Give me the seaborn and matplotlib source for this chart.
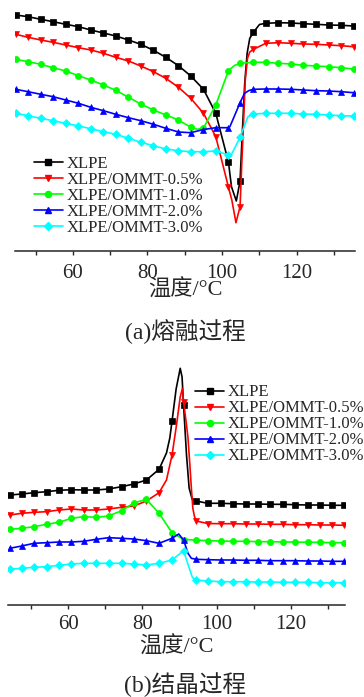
import numpy as np
import pandas as pd
import matplotlib
matplotlib.use("Agg")
import matplotlib.pyplot as plt
from matplotlib.lines import Line2D
import seaborn as sns

sns.set_style("ticks")
plt.rcParams['font.family'] = ['Liberation Serif', 'Noto Sans CJK SC']

names = ["XLPE", "XLPE/OMMT-0.5%", "XLPE/OMMT-1.0%", "XLPE/OMMT-2.0%", "XLPE/OMMT-3.0%"]
colors = ["#000000", "#ff0000", "#00ff00", "#0000ff", "#00ffff"]
markers = ["s", "v", "o", "^", "D"]
msizes = [3.8, 4.8, 4.4, 4.6, 3.8]

# (a) melting: temperatures of the marker points (°C), heat flow in arbitrary units
t_melt = [44.7, 48.0, 51.4, 54.7, 58.1, 61.5, 64.8, 68.2, 71.5, 74.9, 78.2, 81.6, 84.9, 88.3,
          91.6, 95.0, 98.3, 101.7, 104.8, 108.4, 111.7, 115.1, 118.5, 121.8, 125.2, 128.5, 131.9, 135.2]
melt_0 = [236, 234.3, 231.7, 229.3, 226.7, 224.3, 221, 218, 215, 211, 206.7, 200.7, 193.7, 185.3,
          175, 161.7, 137.7, 88.7, 70, 218.7, 227.7, 228.3, 228, 227.3, 226.7, 226, 225.7, 225]
melt_05 = [216.7, 213.7, 211, 208.7, 206, 203.3, 201, 197.7, 193.7, 190, 185, 179.3, 172.7, 163.7,
           152.7, 137.7, 114.3, 63.7, 44.3, 201.7, 207.7, 208.3, 207.7, 207, 206.7, 206, 205.3, 204.3]
melt_10 = [191.7, 189.3, 186.7, 183.3, 180, 175.3, 171, 166, 160.7, 153.7, 147, 141, 136, 131,
           123.7, 123, 146, 180.3, 187.7, 188.7, 188.7, 187.7, 187, 185.7, 185, 184.3, 183.3, 182]
melt_20 = [161.7, 159.3, 156.7, 154.3, 151, 147.7, 143.7, 140.3, 136.7, 133.3, 130.3, 126.7, 122.7, 119,
           118.3, 121.5, 123.3, 123.3, 148.3, 161.7, 162, 162, 161.7, 161, 160.3, 160, 159.3, 158.3]
melt_30 = [137.7, 135.3, 132.7, 130.3, 127.7, 125, 122.3, 119.3, 116.7, 112.7, 108.7, 105.3, 102, 100.3,
           99.3, 99.3, 100, 96, 113.7, 137, 137.7, 137.7, 137.7, 137, 136.7, 136, 135.3, 135]
# extra points read between markers (peak region)
melt_0_extra = [(102.5, 64.3), (103.8, 50), (105.4, 117.7), (106.05, 167.7), (106.7, 197.7),
                (107.4, 212.7), (110.0, 226.5)]
melt_05_extra = [(102.6, 51), (103.7, 28.3), (105.3, 91), (105.8, 134.3), (106.2, 171),
                 (106.8, 192.7), (107.4, 199)]
melt_10_extra = [(93.3, 121.7), (103.3, 185.5)]
melt_20_extra = [(102.1, 124.5), (106.0, 157.7), (107.2, 160.5)]
melt_30_extra = [(102.2, 94.3), (106.9, 134.3)]

# (b) crystallization
t_cryst = [44.3, 47.5, 50.8, 54.2, 57.5, 60.9, 64.2, 67.6, 70.9, 74.4, 77.7, 81.1, 84.5, 88.0,
           91.1, 94.5, 97.6, 101.1, 104.4, 107.8, 111.1, 114.4, 117.8, 121.1, 124.5, 127.9, 131.2, 134.4]
cryst_0 = [110, 111, 112.3, 113.3, 114.7, 115.3, 115, 115, 116, 118.3, 121, 125, 135.7, 184,
           200, 104, 101.7, 101.7, 101.3, 101, 101, 100.7, 100.7, 100.3, 100, 100, 99.7, 99.7]
cryst_05 = [90, 91.7, 92.7, 93.3, 95, 96, 95, 95, 96, 97.7, 99, 104, 112.3, 150,
            203, 84, 81.5, 81.3, 81.3, 81, 81, 80.7, 80.7, 80.3, 80.3, 80, 80, 79.7]
cryst_10 = [75.7, 76.7, 78.3, 80.7, 82.7, 86.7, 88.3, 87.7, 89, 94.3, 102, 105.7, 91.7, 72.3,
            65.5, 65, 64.3, 64, 63.7, 63.7, 63.3, 63.3, 63, 63, 62.7, 62.7, 62.3, 62.3]
cryst_20 = [56.7, 59, 61.7, 62.3, 63, 63, 63.7, 65.7, 67.3, 66.7, 66, 64.3, 61.7, 66.7,
            65, 45.7, 45.3, 45, 45, 44.7, 44.7, 44.3, 44.3, 44.3, 44, 44, 43.7, 43.7]
cryst_30 = [35.7, 36.7, 37.7, 38.3, 39.7, 41, 41.7, 41.7, 41.7, 41.7, 41, 40, 41.7, 45,
            54.3, 25, 24, 23.3, 23.3, 23.3, 23, 23, 22.7, 22.7, 22.7, 22.3, 22.3, 22.3]
cryst_0_extra = [(86.5, 152), (87.4, 167), (89.1, 216), (90.2, 236.7), (90.7, 228),
                 (91.9, 150), (92.6, 117), (93.4, 106)]
cryst_05_extra = [(86.5, 125), (89.2, 180), (90.2, 208), (90.8, 216.7), (91.8, 183), (92.3, 167),
                  (92.8, 140), (93.2, 117), (93.6, 97), (94.0, 89)]
cryst_10_extra = []
cryst_20_extra = [(89.8, 71), (92.3, 51.7), (93.2, 46.7)]
cryst_30_extra = [(92.5, 38.3), (93.5, 27.5)]


def build(t, vals, extra):
    df = pd.DataFrame({
        "T": list(t) + [e[0] for e in extra],
        "v": list(vals) + [e[1] for e in extra],
        "mark": [True] * len(vals) + [False] * len(extra),
    })
    return df.sort_values("T").reset_index(drop=True)


def draw_panel(ax, t, series, extras):
    for vals, extra, c, m, ms in zip(series, extras, colors, markers, msizes):
        df = build(t, vals, extra)
        sns.lineplot(data=df, x="T", y="v", ax=ax, color=c, lw=1.2, marker=m, ms=ms,
                     mec=c, mfc=c, mew=0.5, markevery=df["mark"].tolist(),
                     sort=False, estimator=None, errorbar=None, legend=False)
    ax.set_yticks([])
    ax.set_ylabel("")
    sns.despine(ax=ax, left=True)
    ax.spines["bottom"].set_linewidth(1.1)
    ax.set_xticks([60, 80, 100, 120])
    ax.set_xticks([50, 70, 90, 110, 130], minor=True)
    ax.tick_params(axis="x", which="both", direction="out", length=3, width=1.0, labelsize=15)


fig = plt.figure(figsize=(3.64, 6.97), dpi=100)

ax1 = fig.add_axes([15 / 364, 1 - 251 / 697, 340 / 364, 251 / 697])
draw_panel(ax1, t_melt, [melt_0, melt_05, melt_10, melt_20, melt_30],
           [melt_0_extra, melt_05_extra, melt_10_extra, melt_20_extra, melt_30_extra])
ax1.set_xlim(44.5, 135.6)
ax1.set_ylim(0, 251)
ax1.tick_params(axis="x", pad=6)

ax2 = fig.add_axes([8 / 364, 1 - 605 / 697, 337 / 364, 255 / 697])
draw_panel(ax2, t_cryst, [cryst_0, cryst_05, cryst_10, cryst_20, cryst_30],
           [cryst_0_extra, cryst_05_extra, cryst_10_extra, cryst_20_extra, cryst_30_extra])
ax2.set_xlim(43.8, 134.6)
ax2.set_ylim(0, 255)
ax2.tick_params(axis="x", pad=4)

handles = [Line2D([], [], color=c, marker=m, ms=ms, mec=c, mfc=c, lw=1.2)
           for c, m, ms in zip(colors, markers, msizes)]
leg_kw = dict(frameon=False, borderpad=0, borderaxespad=0, handlelength=1.75,
              handletextpad=0.2, labelspacing=0.0, prop={"family": "Liberation Serif", "size": 12})
ax1.legend(handles, names, loc="upper left", bbox_to_anchor=(0.055, 0.378), **leg_kw)
ax2.legend(handles, names, loc="upper left", bbox_to_anchor=(0.555, 0.865), **leg_kw)

for ax, ypx, top_px, hpx in [(ax1, 290, 251, 251), (ax2, 647, 605, 255)]:
    ax.set_xlabel("温度/°C", fontsize=16)
    ax.xaxis.set_label_coords(0.5, -(ypx - top_px) / hpx)
    ax.xaxis.label.set_verticalalignment("center")

fig.text(185 / 364, 1 - 332 / 697, "(a)熔融过程", ha="center", va="center", fontsize=17)
fig.text(185 / 364, 1 - 685 / 697, "(b)结晶过程", ha="center", va="center", fontsize=17)

fig.savefig("out.png", dpi=100)
